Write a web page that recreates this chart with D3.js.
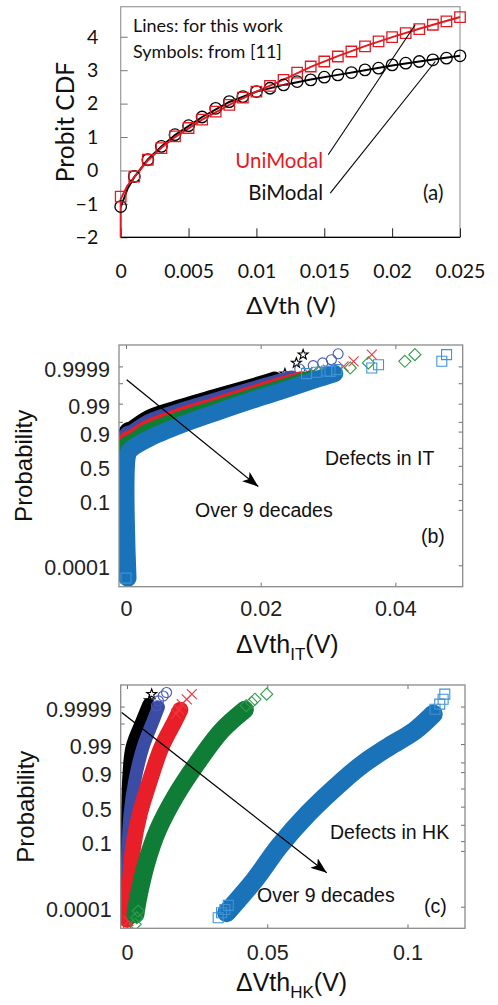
<!DOCTYPE html>
<html><head><meta charset="utf-8">
<script src="https://cdn.jsdelivr.net/npm/d3@7"></script>
<style>body{margin:0;background:#fff}svg{display:block}</style>
</head><body>
<svg id="chart" width="498" height="1005"></svg>
<script>
// ================= DATA =================
// ---- Panel (a): Probit CDF vs dVth ----
const aX      = [0,0.001,0.002,0.003,0.004,0.005,0.006,0.007,0.008,0.009,0.010,0.011,0.012,0.013,0.014,0.015,0.016,0.017,0.018,0.019,0.020,0.021,0.022,0.023,0.024,0.025];
const aUniSym = [-0.78,-0.18,0.32,0.67,1.02,1.27,1.52,1.76,1.96,2.18,2.36,2.53,2.71,2.93,3.11,3.26,3.41,3.56,3.71,3.86,3.99,4.11,4.23,4.36,4.46,4.59];
const aBiSym  = [-1.08,-0.18,0.32,0.72,1.07,1.34,1.60,1.86,2.06,2.21,2.36,2.46,2.56,2.66,2.71,2.79,2.86,2.93,3.01,3.06,3.16,3.21,3.26,3.31,3.36,3.43];
const aUniLineX = [0,0,0.0005,0.001,0.002,0.003,0.004,0.006,0.008,0.010,0.012,0.014,0.016,0.018,0.020,0.022,0.025];
const aUniLineY = [-2,-0.85,-0.45,-0.2,0.3,0.68,1.0,1.52,1.96,2.36,2.72,3.1,3.42,3.72,3.99,4.24,4.59];
const aBiLineX  = [0,0.0005,0.001,0.002,0.003,0.004,0.006,0.008,0.010,0.012,0.014,0.016,0.018,0.020,0.022,0.025];
const aBiLineY  = [-1.1,-0.55,-0.2,0.33,0.72,1.06,1.6,2.05,2.36,2.56,2.72,2.86,3.0,3.14,3.26,3.43];
const aXTicks = [0,0.005,0.01,0.015,0.02,0.025];
const aXTickLabels = ["0","0.005","0.01","0.015","0.02","0.025"];
const aYTicks = [-2,-1,0,1,2,3,4];
// leader lines (data coords): [x1,y1,x2,y2]
const aUniLeader = [0.01529,0.47,0.0217,4.36];
const aBiLeader  = [0.01544,-0.68,0.02318,3.26];

// ---- Normal probability axis (panels b, c) ----
const probTicks  = [0.0001,0.05,0.1,0.25,0.5,0.75,0.9,0.95,0.99,0.999,0.9999];
const probLabels = ["0.0001","0.1","0.5","0.9","0.99","0.9999"];
const seriesColors = ["#000000","#3a4ca4","#e81e28","#0f7d36","#1a73b9"];
const markerColors = ["#000000","#4656bc","#f0363d","#2f9c4a","#3f92d6"];
const seriesSymbols = ["star","circle","x","diamond","square"];

// ---- Panel (b): dVth_IT — band centre lines (x in V, z = normal quantile) ----
const itBlackX = [0,0,0.00085,0.0033,0.0083,0.0132,0.0182,0.0221];
const itBlackZ = [-4.2,1.30,1.42,1.83,2.25,2.61,2.97,3.27];
const itBlueX  = [0,0,0.00085,0.0033,0.0083,0.0132,0.0182,0.0231,0.0246];
const itBlueZ  = [-4.2,1.18,1.28,1.67,2.11,2.47,2.85,3.20,3.30];
const itRedX   = [0,0,0.00085,0.0033,0.0083,0.0132,0.0182,0.0231,0.026];
const itRedZ   = [-4.2,1.0,1.10,1.48,1.94,2.31,2.70,3.08,3.28];
const itGreenX = [0,0,0.00085,0.0033,0.0083,0.0132,0.0182,0.0231,0.0275];
const itGreenZ = [-4.2,0.80,0.92,1.31,1.79,2.17,2.57,2.95,3.30];
const itCyanX  = [0.0003,0.0003,0.00085,0.0033,0.0083,0.0132,0.0182,0.0231,0.0281,0.031];
const itCyanZ  = [-4.2,0.45,0.64,1.01,1.54,1.98,2.41,2.80,3.22,3.45];
// individual extreme points
const itBlackTailX = [0,0.0236,0.0253,0.0263];
const itBlackTailZ = [-4.15,3.45,3.85,4.16];
const itBlueTailX  = [0,0.0258,0.0278,0.0292,0.0305,0.0315];
const itBlueTailZ  = [-4.1,3.62,3.75,3.85,3.97,4.19];
const itRedTailX   = [0,0.0270,0.0300,0.0323,0.0338,0.0365];
const itRedTailZ   = [-4.1,3.5,3.6,3.72,3.91,4.16];
const itGreenTailX = [0,0.0285,0.0308,0.0333,0.0360,0.0414,0.0429];
const itGreenTailZ = [-4.2,3.5,3.6,3.66,3.85,3.91,4.16];
const itCyanTailX  = [0,0.0268,0.0283,0.0298,0.0303,0.0313,0.0365,0.0375,0.0469,0.0476];
const itCyanTailZ  = [-4.2,3.45,3.5,3.55,3.53,3.6,3.66,3.78,3.91,4.16];
const bXTicks = [0,0.02,0.04];
const bXTickLabels = ["0","0.02","0.04"];
const bArrow = [0.0001,3.22,0.01964,-0.775];

// ---- Panel (c): dVth_HK ----
const hkBlackX = [0,0,0.0004,0.0016,0.0052,0.0076];
const hkBlackZ = [-4.2,-0.5,0.98,2.21,3.19,3.8];
const hkBlueX  = [0,0.0001,0.0004,0.0011,0.0028,0.0057,0.0093,0.0112];
const hkBlueZ  = [-4.2,-2.5,-1.48,-0.25,0.98,2.21,3.19,3.7];
const hkRedX   = [0,0.0003,0.0011,0.0022,0.0046,0.0082,0.0123,0.0171,0.019];
const hkRedZ   = [-4.2,-3.9,-2.71,-1.48,-0.25,0.98,2.21,3.19,3.6];
const hkGreenX = [0.0030,0.0041,0.0069,0.011,0.0171,0.0248,0.0337,0.042];
const hkGreenZ = [-4.0,-3.33,-2.10,-0.87,0.36,1.59,2.82,3.6];
const hkCyanX  = [0.0355,0.0456,0.0542,0.0646,0.0771,0.0842,0.0931,0.1026,0.1092];
const hkCyanZ  = [-3.94,-2.71,-1.48,-0.25,0.98,1.59,2.21,2.82,3.44];
const hkBlackTailX = [0,0.0080,0.0088];
const hkBlackTailZ = [-4.3,3.95,4.18];
const hkBlueTailX  = [0,0.0105,0.0112,0.0129,0.0141];
const hkBlueTailZ  = [-4.2,3.75,3.93,4.11,4.24];
const hkRedTailX   = [0.0005,0.0175,0.0185,0.0195,0.0213,0.0231];
const hkRedTailZ   = [-4.25,3.45,3.6,3.81,3.99,4.18];
const hkGreenTailX = [0.0029,0.0035,0.0040,0.0425,0.0444,0.0456,0.0498];
const hkGreenTailZ = [-4.37,-4.13,-3.88,3.75,3.87,3.99,4.18];
const hkCyanTailX  = [0.0325,0.0337,0.0349,0.0361,0.1098,0.1115,0.1127,0.1133];
const hkCyanTailZ  = [-4.13,-3.94,-3.82,-3.67,3.62,3.81,3.99,4.18];
const cXTicks = [0,0.05,0.1];
const cXTickLabels = ["0","0.05","0.1"];
const cArrow = [-0.0019,3.50,0.0712,-2.46];

// ================= HELPERS =================
function probit(p){
  const a=[-3.969683028665376e+01,2.209460984245205e+02,-2.759285104469687e+02,1.383577518672690e+02,-3.066479806614716e+01,2.506628277459239e+00];
  const b=[-5.447609879822406e+01,1.615858368580409e+02,-1.556989798598866e+02,6.680131188771972e+01,-1.328068155288572e+01];
  const c=[-7.784894002430293e-03,-3.223964580411365e-01,-2.400758277161838e+00,-2.549732539343734e+00,4.374664141464968e+00,2.938163982698783e+00];
  const d=[7.784695709041462e-03,3.224671290700398e-01,2.445134137142996e+00,3.754408661907416e+00];
  const pl=0.02425, ph=1-pl; let q,r;
  if(p<pl){q=Math.sqrt(-2*Math.log(p));return (((((c[0]*q+c[1])*q+c[2])*q+c[3])*q+c[4])*q+c[5])/((((d[0]*q+d[1])*q+d[2])*q+d[3])*q+1);}
  if(p<=ph){q=p-0.5;r=q*q;return (((((a[0]*r+a[1])*r+a[2])*r+a[3])*r+a[4])*r+a[5])*q/(((((b[0]*r+b[1])*r+b[2])*r+b[3])*r+b[4])*r+1);}
  q=Math.sqrt(-2*Math.log(1-p));return -(((((c[0]*q+c[1])*q+c[2])*q+c[3])*q+c[4])*q+c[5])/((((d[0]*q+d[1])*q+d[2])*q+d[3])*q+1);
}
function symbolPath(type,s){
  const h=s/2;
  if(type==="square") return `M${-h},${-h}H${h}V${h}H${-h}Z`;
  if(type==="diamond"){const k=h*1.15;return `M0,${-k}L${k},0L0,${k}L${-k},0Z`;}
  if(type==="circle") return `M${h},0A${h},${h} 0 1,1 ${-h},0A${h},${h} 0 1,1 ${h},0Z`;
  if(type==="x") return `M${-h},${-h}L${h},${h}M${h},${-h}L${-h},${h}`;
  if(type==="star"){let p="";for(let i=0;i<10;i++){const r=i%2?h*0.42:h*1.05;const ang=-Math.PI/2+i*Math.PI/5;p+=(i?"L":"M")+(r*Math.cos(ang)).toFixed(2)+","+(r*Math.sin(ang)).toFixed(2);}return p+"Z";}
}
const svg = d3.select("#chart");
const defs = svg.append("defs");
defs.append("marker").attr("id","arr").attr("markerUnits","userSpaceOnUse")
  .attr("markerWidth",18).attr("markerHeight",12).attr("refX",16).attr("refY",6).attr("orient","auto")
  .append("path").attr("d","M0,0L16,6L0,12L4,6Z").attr("fill","#000");

// ================= PANEL (a) =================
const A = {l:120.7,r:460,t:6.7,b:237.3};
const xA = d3.scaleLinear().domain([0,0.025]).range([A.l,A.r]);
const yA = d3.scaleLinear().domain([-2,4.9]).range([A.b,A.t]);
const gA = svg.append("g");
const calibri = "Lato, 'Open Sans', sans-serif";
gA.append("rect").attr("x",A.l).attr("y",A.t).attr("width",A.r-A.l).attr("height",A.b-A.t)
  .attr("fill","none").attr("stroke","#9a9a9a").attr("stroke-width",1.2);
const axA_y = gA.append("g").attr("transform",`translate(${A.l},0)`)
  .call(d3.axisLeft(yA).tickValues(aYTicks).tickFormat(d3.format("d")).tickSizeInner(-7).tickSizeOuter(0).tickPadding(22.5));
const axA_x = gA.append("g").attr("transform",`translate(0,${A.b})`)
  .call(d3.axisBottom(xA).tickValues(aXTicks).tickFormat((d,i)=>aXTickLabels[i]).tickSizeInner(-9).tickSizeOuter(0).tickPadding(26.5));
[axA_y,axA_x].forEach(g=>{g.select(".domain").remove();g.selectAll("text").attr("font-family",calibri).attr("font-size",19.5).attr("fill","#111");});
axA_y.selectAll("line").attr("stroke","#777");
axA_x.selectAll("line").attr("stroke","#222");
gA.append("line").attr("x1",A.l).attr("x2",A.r).attr("y1",A.b).attr("y2",A.b).attr("stroke","#000").attr("stroke-width",1.3);
const lineA = d3.line().x(d=>xA(d[0])).y(d=>yA(d[1]));
gA.append("path").datum(aBiLineX.map((x,i)=>[x,aBiLineY[i]])).attr("d",lineA).attr("fill","none").attr("stroke","#000").attr("stroke-width",2);
gA.append("path").datum(aUniLineX.map((x,i)=>[x,aUniLineY[i]])).attr("d",lineA).attr("fill","none").attr("stroke","#e31a22").attr("stroke-width",2);
gA.selectAll(".ci").data(aX.map((x,i)=>[x,aBiSym[i]])).join("path")
  .attr("transform",d=>`translate(${xA(d[0])},${yA(d[1])})`).attr("d",symbolPath("circle",11.5))
  .attr("fill","none").attr("stroke","#000").attr("stroke-width",1.3);
gA.selectAll(".sq").data(aX.map((x,i)=>[x,aUniSym[i]])).join("path")
  .attr("transform",d=>`translate(${xA(d[0])},${yA(d[1])})`).attr("d",symbolPath("square",10.5))
  .attr("fill","none").attr("stroke","#e31a22").attr("stroke-width",1.3);
gA.append("line").attr("x1",xA(aUniLeader[0])).attr("y1",yA(aUniLeader[1])).attr("x2",xA(aUniLeader[2])).attr("y2",yA(aUniLeader[3])).attr("stroke","#000").attr("stroke-width",1.1);
gA.append("line").attr("x1",xA(aBiLeader[0])).attr("y1",yA(aBiLeader[1])).attr("x2",xA(aBiLeader[2])).attr("y2",yA(aBiLeader[3])).attr("stroke","#000").attr("stroke-width",1.1);
const tA = (x,y,s,size,col,anchor)=>gA.append("text").attr("x",x).attr("y",y).text(s).attr("font-family",calibri).attr("font-size",size).attr("fill",col||"#111").attr("text-anchor",anchor||"start");
tA(133,32,"Lines: for this work",18);
tA(133,58,"Symbols: from [11]",18);
tA(323,168,"UniModal",20.5,"#e31a22","end");
tA(323,200,"BiModal",20.5,"#111","end");
tA(423,200,"(a)",20.5);
tA(291,314,"ΔVth (V)",24,"#111","middle");
gA.append("text").attr("transform","translate(74,122) rotate(-90)").attr("text-anchor","middle")
  .attr("font-family",calibri).attr("font-size",24.5).attr("fill","#111").text("Probit CDF");

// ================= PANELS (b),(c) =================
const arial = "'Liberation Sans', Arial, sans-serif";
let clipId = 0;
function probPanel(P, xDom, xTicks, xTickLabels, xPad, bands, tails, widths, arrow, texts, xTitle){
  const g = svg.append("g");
  const x = d3.scaleLinear().domain(xDom).range([P.l,P.r]);
  const y = d3.scaleLinear().domain([-4.52,4.52]).range([P.b,P.t]);
  const cid = "clip"+(clipId++);
  defs.append("clipPath").attr("id",cid).append("rect").attr("x",P.l).attr("y",P.t).attr("width",P.r-P.l).attr("height",P.b-P.t);
  const zt = probTicks.map(probit);
  const fmt = (d,i)=>{const s=String(probTicks[i]);return probLabels.includes(s)?s:"";};
  const axL = g.append("g").attr("transform",`translate(${P.l},0)`).call(d3.axisLeft(y).tickValues(zt).tickFormat(fmt).tickSizeInner(-4).tickSizeOuter(0).tickPadding(9));
  const axR = g.append("g").attr("transform",`translate(${P.r},0)`).call(d3.axisRight(y).tickValues(zt).tickFormat("").tickSizeInner(-4).tickSizeOuter(0));
  const axB = g.append("g").attr("transform",`translate(0,${P.b})`).call(d3.axisBottom(x).tickValues(xTicks).tickFormat((d,i)=>xTickLabels[i]).tickSizeInner(-4).tickSizeOuter(0).tickPadding(xPad));
  const axT = g.append("g").attr("transform",`translate(0,${P.t})`).call(d3.axisTop(x).tickValues(xTicks).tickFormat("").tickSizeInner(-4).tickSizeOuter(0));
  [axL,axR,axB,axT].forEach(a=>{a.select(".domain").remove();a.selectAll("line").attr("stroke","#6e6e6e").attr("stroke-width",1);
    a.selectAll("text").attr("font-family",arial).attr("font-size",21.5).attr("fill","#222");});
  axL.selectAll("text").attr("dy","0.45em");
  const line = d3.line().x(d=>x(d[0])).y(d=>y(d[1])).curve(d3.curveCatmullRom.alpha(0.5));
  const plot = g.append("g").attr("clip-path",`url(#${cid})`);
  bands.forEach((bd,k)=>{
    plot.append("path").datum(bd[0].map((v,i)=>[v,bd[1][i]])).attr("d",line)
      .attr("fill","none").attr("stroke",seriesColors[k]).attr("stroke-width",widths[k])
      .attr("stroke-linecap","round").attr("stroke-linejoin","round");
    const tl = tails[k];
    plot.selectAll(null).data(tl[0].map((v,i)=>[v,tl[1][i]])).join("path")
      .attr("transform",d=>`translate(${x(d[0])},${y(d[1])})`)
      .attr("d",symbolPath(seriesSymbols[k], seriesSymbols[k]==="diamond"?10.5:10))
      .attr("fill","none").attr("stroke",markerColors[k]).attr("stroke-width",1.1);
  });
  g.append("rect").attr("x",P.l).attr("y",P.t).attr("width",P.r-P.l).attr("height",P.b-P.t)
    .attr("fill","none").attr("stroke","#8a8a8a").attr("stroke-width",1.3);
  g.append("line").attr("x1",x(arrow[0])).attr("y1",y(arrow[1])).attr("x2",x(arrow[2])).attr("y2",y(arrow[3]))
    .attr("stroke","#000").attr("stroke-width",1.3).attr("marker-end","url(#arr)");
  texts.forEach(t=>g.append("text").attr("x",t[0]).attr("y",t[1]).text(t[2]).attr("font-family",arial).attr("font-size",t[3]).attr("fill","#111"));
  g.append("text").attr("transform",`translate(${P.l-87},${(P.t+P.b)/2}) rotate(-90)`).attr("text-anchor","middle")
    .attr("font-family",arial).attr("font-size",24).attr("fill","#111").text("Probability");
  const xt = g.append("text").attr("x",xTitle[0]).attr("y",xTitle[1]).attr("font-family",arial).attr("font-size",25).attr("fill","#111");
  xt.append("tspan").text("ΔVth");
  xt.append("tspan").attr("dy",7).attr("font-size",17).text(xTitle[2]);
  xt.append("tspan").attr("dy",-7).text("(V)");
}
const B = {l:119,r:462.7,t:345,b:586.7};
probPanel(B,[-0.00104,0.05],bXTicks,bXTickLabels,14.5,
  [[itBlackX,itBlackZ],[itBlueX,itBlueZ],[itRedX,itRedZ],[itGreenX,itGreenZ],[itCyanX,itCyanZ]],
  [[itBlackTailX,itBlackTailZ],[itBlueTailX,itBlueTailZ],[itRedTailX,itRedTailZ],[itGreenTailX,itGreenTailZ],[itCyanTailX,itCyanTailZ]],
  [14,14,14,15,17], bArrow,
  [[325,465,"Defects in IT",19.5],[195,517,"Over 9 decades",19.5],[421,543,"(b)",19.5]],
  [236,653,"IT"]);
const C = {l:120.7,r:465,t:685,b:928.3};
probPanel(C,[-0.00225,0.1205],cXTicks,cXTickLabels,16.5,
  [[hkBlackX,hkBlackZ],[hkBlueX,hkBlueZ],[hkRedX,hkRedZ],[hkGreenX,hkGreenZ],[hkCyanX,hkCyanZ]],
  [[hkBlackTailX,hkBlackTailZ],[hkBlueTailX,hkBlueTailZ],[hkRedTailX,hkRedTailZ],[hkGreenTailX,hkGreenTailZ],[hkCyanTailX,hkCyanTailZ]],
  [12,13,16,18,19], cArrow,
  [[330,839,"Defects in HK",19.5],[257,902,"Over 9 decades",19.5],[424,913,"(c)",19.5]],
  [236,991,"HK"]);
</script>
</body></html>
